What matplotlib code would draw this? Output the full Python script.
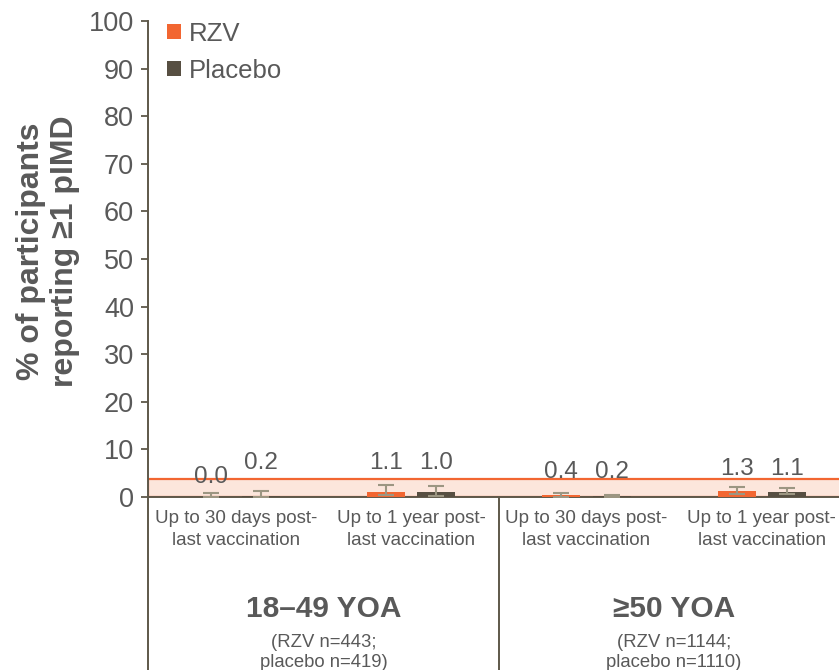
import matplotlib
matplotlib.use("Agg")
import matplotlib.pyplot as plt
import matplotlib.transforms as mtransforms
from matplotlib.patches import Patch, Rectangle
import numpy as np

plt.rcParams["font.family"] = ["Liberation Sans", "DejaVu Sans"]

# ---- data -------------------------------------------------------------
periods = ["Up to 30 days post-\nlast vaccination",
           "Up to 1 year post-\nlast vaccination"]
age_groups = ["18\u201349 YOA", "\u226550 YOA"]
group_notes = ["(RZV n=443;\nplacebo n=419)",
               "(RZV n=1144;\nplacebo n=1110)"]
series = ["RZV", "Placebo"]

# percentages, ordered: 18-49 (30 d, 1 y), >=50 (30 d, 1 y)
rzv_pct = [0.0, 1.1, 0.4, 1.3]
placebo_pct = [0.2, 1.0, 0.2, 1.1]
# 95% confidence limits
rzv_ci_low = [0.0, 0.4, 0.1, 0.7]
rzv_ci_high = [0.8, 2.5, 0.9, 2.2]
placebo_ci_low = [0.0, 0.3, 0.0, 0.6]
placebo_ci_high = [1.2, 2.3, 0.5, 1.8]

y_ticks = [0, 10, 20, 30, 40, 50, 60, 70, 80, 90, 100]

# ---- style ------------------------------------------------------------
ORANGE = "#F26631"
DARK = "#574F42"
ERR = "#9C9682"
AXIS = "#5E584A"
TEXT = "#595959"
BAND_FILL = "#FCE6DC"

W, H = 839, 670
fig = plt.figure(figsize=(W / 100, H / 100), dpi=100)
left_px, right_px, top_px, bottom_px = 148, 839, 21, 497
ax = fig.add_axes([left_px / W, 1 - bottom_px / H,
                   (right_px - left_px) / W, (bottom_px - top_px) / H])

n = len(rzv_pct)
x = np.arange(n)
offset = 0.143
width = 0.217

def draw_series(xpos, vals, lo, hi, color):
    ax.bar(xpos, vals, width=width, color=color, zorder=3)
    vals = np.asarray(vals)
    yerr = np.vstack([vals - np.asarray(lo), np.asarray(hi) - vals])
    ax.errorbar(xpos, vals, yerr=yerr, fmt="none", ecolor=ERR,
                elinewidth=1.5, capsize=5.5, capthick=1.5, zorder=4)

# highlighted low-value band across the whole plot width
ax.add_patch(Rectangle((-0.5, 0), 4.0, 3.8, facecolor=BAND_FILL,
                       edgecolor=ORANGE, linewidth=1.6, zorder=1,
                       clip_on=True))

draw_series(x - offset, rzv_pct, rzv_ci_low, rzv_ci_high, ORANGE)
draw_series(x + offset, placebo_pct, placebo_ci_low, placebo_ci_high, DARK)

# value labels
label_heights = [4.2, 7.1, 5.2, 5.8]
label_heights_p = [7.1, 7.1, 5.2, 5.8]
for i in range(n):
    ax.text(x[i] - offset, label_heights[i], f"{rzv_pct[i]:.1f}",
            ha="center", va="center", fontsize=17.5, color=TEXT, zorder=5)
    ax.text(x[i] + offset, label_heights_p[i], f"{placebo_pct[i]:.1f}",
            ha="center", va="center", fontsize=17.5, color=TEXT, zorder=5)

ax.set_xlim(-0.5, 3.44)
ax.set_ylim(0, 100)
ax.set_yticks(y_ticks)
ax.tick_params(axis="y", direction="out", length=5, width=1.3,
               color=AXIS, labelsize=19.5, labelcolor=TEXT, pad=5)
ax.set_xticks([])
for side in ("top", "right"):
    ax.spines[side].set_visible(False)
for side in ("left", "bottom"):
    ax.spines[side].set_color(AXIS)
    ax.spines[side].set_linewidth(1.4)

# category labels and group dividers below the axis
trans = mtransforms.blended_transform_factory(ax.transData, ax.transAxes)
axis_h = bottom_px - top_px
def ax_y(px):
    return -(px - bottom_px) / axis_h

for i in range(n):
    ax.text(x[i], ax_y(510), periods[i % 2], transform=trans,
            ha="center", va="top", fontsize=13.5, color=TEXT,
            linespacing=1.35)

for gx in (-0.5, 1.5):
    ax.plot([gx, gx], [0, ax_y(672)], transform=trans, color=AXIS,
            linewidth=1.4, clip_on=False)

for g in range(2):
    cx = 2 * g + 0.5
    ax.text(cx, ax_y(609), age_groups[g], transform=trans,
            ha="center", va="center", fontsize=21.5, fontweight="bold",
            color=TEXT)
    ax.text(cx, ax_y(634), group_notes[g], transform=trans,
            ha="center", va="top", fontsize=13.3, color=TEXT,
            linespacing=1.2)

# y-axis title
fig.text(48 / W, 1 - 251 / H, "% of participants\nreporting \u22651 pIMD",
         rotation=90, ha="center", va="center", fontsize=23,
         fontweight="bold", color=TEXT, linespacing=1.18)

# legend
handles = [Patch(facecolor=ORANGE, edgecolor="none"),
           Patch(facecolor=DARK, edgecolor="none")]
leg = ax.legend(handles, series, loc="upper left",
                bbox_to_anchor=(154 / W, 1 - 9 / H),
                bbox_transform=fig.transFigure, frameon=False,
                fontsize=18.5, handlelength=0.55, handleheight=0.55,
                handletextpad=0.3, labelspacing=0.5, borderpad=0)
for t in leg.get_texts():
    t.set_color(TEXT)

fig.savefig("out.png", dpi=100)
